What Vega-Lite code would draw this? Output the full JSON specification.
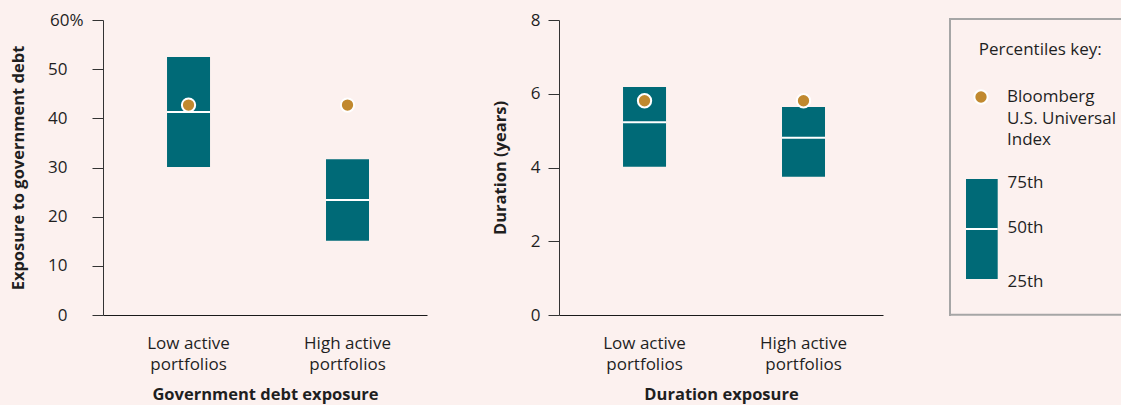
{
  "$schema": "https://vega.github.io/schema/vega-lite/v6.json",
  "background": "#fcf1ef",
  "padding": {"left": 10, "top": 11, "right": 3, "bottom": 2},
  "spacing": 65,
  "config": {
    "font": "Open Sans",
    "view": {"stroke": null},
    "axis": {"grid": false, "labelFont": "Open Sans", "titleFont": "Open Sans", "labelColor": "#1f1f1f", "titleColor": "#1f1f1f", "labelFontSize": 17, "titleFontSize": 16.5, "titleFontWeight": "bold"}
  },
  "datasets": {
    "gov": [
      {"group": "Low active portfolios", "p25": 30.1, "p50": 41.3, "p75": 52.5, "index": 42.7},
      {"group": "High active portfolios", "p25": 15.1, "p50": 23.4, "p75": 31.7, "index": 42.7}
    ],
    "dur": [
      {"group": "Low active portfolios", "p25": 4.02, "p50": 5.23, "p75": 6.18, "index": 5.81},
      {"group": "High active portfolios", "p25": 3.75, "p50": 4.81, "p75": 5.64, "index": 5.81}
    ],
    "keyframe": [
      {"x": 0, "x2": 101.8, "y": -0.34, "y2": -0.34},
      {"x": 0.58, "x2": 0.58, "y": -0.68, "y2": 100.3},
      {"x": 0, "x2": 101.8, "y": 99.9, "y2": 99.9}
    ],
    "keybar": [{"x": 9.83, "x2": 28.15, "y": 53.9, "y2": 87.8, "m": 70.85}],
    "keydot": [{"x": 18.5, "y": 26.1}],
    "keytext": [
      {"x": 17.2, "y": 11.86, "text": "Percentiles key:"},
      {"x": 33.5, "y": 27.7, "text": "Bloomberg"},
      {"x": 33.5, "y": 35.25, "text": "U.S. Universal"},
      {"x": 33.5, "y": 42.37, "text": "Index"},
      {"x": 33.8, "y": 57.05, "text": "75th"},
      {"x": 33.8, "y": 72.3, "text": "50th"},
      {"x": 33.8, "y": 90.4, "text": "25th"}
    ]
  },
  "hconcat": [
    {
      "width": 324, "height": 295,
      "data": {"name": "gov"},
      "encoding": {
        "x": {"field": "group", "type": "nominal", "sort": null,
          "scale": {"paddingInner": 0, "paddingOuter": 0.019, "align": 1},
          "axis": {"title": "Government debt exposure", "labelAngle": 0, "ticks": false, "domainColor": "#1a1a1a", "domainWidth": 1.2, "labelPadding": 20, "labelLineHeight": 21.5, "labelExpr": "[replace(datum.label, ' portfolios', ''), 'portfolios']", "titlePadding": 14}}
      },
      "layer": [
        {"mark": {"type": "bar", "width": 43, "color": "#006a77"},
         "encoding": {
           "y": {"field": "p25", "type": "quantitative", "scale": {"domain": [0, 60], "nice": false},
             "axis": {"title": "Exposure to government debt", "values": [0, 10, 20, 30, 40, 50, 60], "labelExpr": "datum.value == 60 ? '60%' : datum.label", "labelPadding": {"condition": {"test": "datum.value == 60", "value": 9}, "value": 25}, "tickSize": 11, "tickColor": "#333333", "domainColor": "#333333", "titlePadding": 21}},
           "y2": {"field": "p75"}}},
        {"mark": {"type": "tick", "size": 43, "thickness": 2, "color": "#ffffff", "opacity": 1},
         "encoding": {"y": {"field": "p50", "type": "quantitative", "title": "Exposure to government debt"}}},
        {"mark": {"type": "point", "filled": true, "size": 177, "fill": "#c1892f", "stroke": "#ffffff", "strokeWidth": 2, "opacity": 1},
         "encoding": {"y": {"field": "index", "type": "quantitative", "title": "Exposure to government debt"}}}
      ]
    },
    {
      "width": 324, "height": 295,
      "data": {"name": "dur"},
      "encoding": {
        "x": {"field": "group", "type": "nominal", "sort": null,
          "scale": {"paddingInner": 0, "paddingOuter": 0.019, "align": 1},
          "axis": {"title": "Duration exposure", "labelAngle": 0, "ticks": false, "domainColor": "#1a1a1a", "domainWidth": 1.2, "labelPadding": 20, "labelLineHeight": 21.5, "labelExpr": "[replace(datum.label, ' portfolios', ''), 'portfolios']", "titlePadding": 14}}
      },
      "layer": [
        {"mark": {"type": "bar", "width": 43, "color": "#006a77"},
         "encoding": {
           "y": {"field": "p25", "type": "quantitative", "scale": {"domain": [0, 8], "nice": false},
             "axis": {"title": "Duration (years)", "values": [0, 2, 4, 6, 8], "labelPadding": 8, "tickSize": 11, "tickColor": "#333333", "domainColor": "#333333", "titlePadding": 21.5}},
           "y2": {"field": "p75"}}},
        {"mark": {"type": "tick", "size": 43, "thickness": 2, "color": "#ffffff", "opacity": 1},
         "encoding": {"y": {"field": "p50", "type": "quantitative", "title": "Duration (years)"}}},
        {"mark": {"type": "point", "filled": true, "size": 177, "fill": "#c1892f", "stroke": "#ffffff", "strokeWidth": 2, "opacity": 1},
         "encoding": {"y": {"field": "index", "type": "quantitative", "title": "Duration (years)"}}}
      ]
    },
    {
      "width": 173, "height": 295,
      "layer": [
        {"data": {"name": "keyframe"},
         "mark": {"type": "rule", "color": "#a6a6a6", "strokeWidth": 2},
         "encoding": {
           "x": {"field": "x", "type": "quantitative", "scale": {"domain": [0, 100], "nice": false, "zero": false}, "axis": null},
           "x2": {"field": "x2"},
           "y": {"field": "y", "type": "quantitative", "scale": {"domain": [0, 100], "nice": false, "zero": false, "reverse": true}, "axis": null},
           "y2": {"field": "y2"}}},
        {"data": {"name": "keybar"},
         "mark": {"type": "rect", "color": "#006a77"},
         "encoding": {
           "x": {"field": "x", "type": "quantitative", "axis": null},
           "x2": {"field": "x2"},
           "y": {"field": "y", "type": "quantitative", "axis": null},
           "y2": {"field": "y2"}}},
        {"data": {"name": "keybar"},
         "mark": {"type": "rule", "color": "#ffffff", "strokeWidth": 2},
         "encoding": {
           "x": {"field": "x", "type": "quantitative", "axis": null},
           "x2": {"field": "x2"},
           "y": {"field": "m", "type": "quantitative", "axis": null}}},
        {"data": {"name": "keydot"},
         "mark": {"type": "point", "filled": true, "size": 177, "fill": "#c1892f", "stroke": "#ffffff", "strokeWidth": 2, "opacity": 1},
         "encoding": {
           "x": {"field": "x", "type": "quantitative", "axis": null},
           "y": {"field": "y", "type": "quantitative", "axis": null}}},
        {"data": {"name": "keytext"},
         "mark": {"type": "text", "align": "left", "baseline": "alphabetic", "fontSize": 17, "font": "Open Sans", "color": "#1f1f1f"},
         "encoding": {
           "x": {"field": "x", "type": "quantitative", "axis": null},
           "y": {"field": "y", "type": "quantitative", "axis": null},
           "text": {"field": "text"}}}
      ]
    }
  ]
}
